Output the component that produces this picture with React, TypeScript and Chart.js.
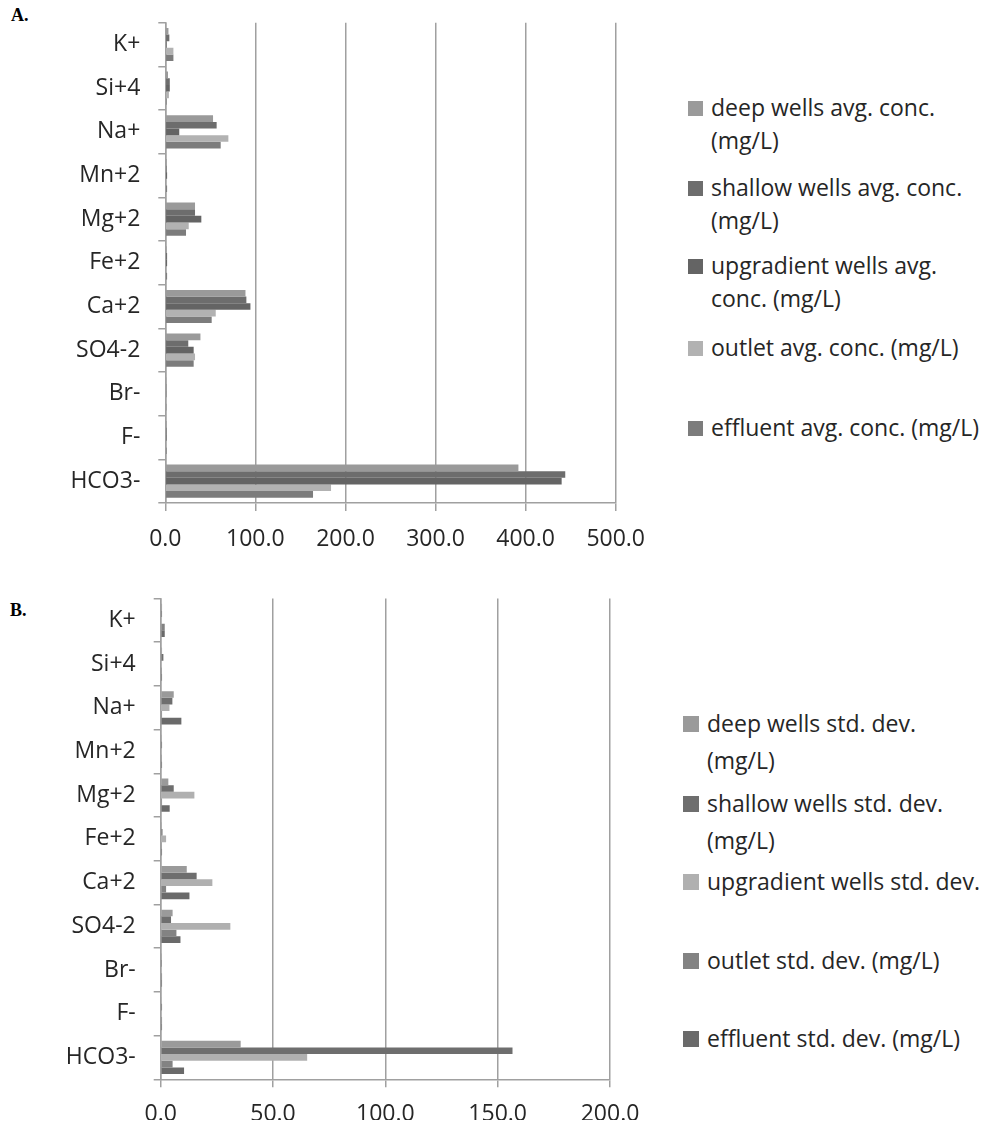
import React, { useEffect, useRef } from 'react';
import { Chart, registerables } from 'chart.js';

Chart.register(...registerables);

const categories = ['K+', 'Si+4', 'Na+', 'Mn+2', 'Mg+2', 'Fe+2', 'Ca+2', 'SO4-2', 'Br-', 'F-', 'HCO3-'];

// Panel A: average concentrations (mg/L)
const deepAvg = [3.5, 3, 53, 1.5, 33, 1.5, 89, 39, 1.2, 1.5, 392];
const shallowAvg = [4.5, 5, 57, 1.5, 33, 2, 90, 25.5, 1.2, 1.5, 444];
const upgradientAvg = [1.5, 5, 15.5, 2, 40, 2, 94.5, 31.5, 1.2, 1.5, 440];
const outletAvg = [9, 4, 70, 1, 26, 1.2, 56, 33, 1, 1.5, 184];
const effluentAvg = [9, 1.5, 61.5, 2, 23, 2, 51.5, 31.5, 1.2, 1.5, 164];

// Panel B: standard deviations (mg/L)
const deepSd = [0.6, 0.6, 5.8, 0.5, 3.4, 0.5, 11.6, 5.3, 0.1, 0.4, 35.6];
const shallowSd = [0.6, 1.2, 5.2, 0.6, 5.8, 0.8, 16, 4.6, 0.1, 0.6, 156.6];
const upgradientSd = [0.3, 0.5, 3.9, 0.4, 15, 2.4, 23, 31, 0.4, 0.4, 65.2];
const outletSd = [1.8, 0.1, 0.6, 0.5, 0.6, 0.5, 2.4, 7, 0.6, 0.6, 5.3];
const effluentSd = [1.8, 0.6, 9.2, 0.6, 4, 0.6, 12.8, 8.8, 0.6, 0.6, 10.4];

const labelsA = [
  ['deep wells avg. conc.', '(mg/L)'],
  ['shallow wells avg. conc.', '(mg/L)'],
  ['upgradient wells avg.', 'conc. (mg/L)'],
  ['outlet avg. conc. (mg/L)'],
  ['effluent avg. conc. (mg/L)'],
];
const labelsB = [
  ['deep wells std. dev.', '(mg/L)'],
  ['shallow wells std. dev.', '(mg/L)'],
  ['upgradient wells std. dev.'],
  ['outlet std. dev. (mg/L)'],
  ['effluent std. dev. (mg/L)'],
];

const colorsA = ['#9a9a9a', '#6d6d6d', '#646464', '#b2b2b2', '#7c7c7c'];
const colorsB = ['#9a9a9a', '#6e6e6e', '#b0b0b0', '#838383', '#6a6a6a'];

const FONT = "'Open Sans', 'Noto Sans', sans-serif";
const TEXT = '#262626';
const GRID = '#a0a0a0';

type PanelProps = {
  series: number[][];
  colors: string[];
  names: string[];
  max: number;
  step: number;
  width: number;
  height: number;
  yWidth: number;
  padTop: number;
  padRight: number;
  xHeight: number;
  xPad: number;
  left: number;
  top: number;
};

function Panel(p: PanelProps) {
  const ref = useRef<HTMLCanvasElement | null>(null);
  useEffect(() => {
    if (!ref.current) return;
    const chart = new Chart(ref.current, {
      type: 'bar',
      data: {
        labels: categories,
        datasets: p.series.map((d, i) => ({
          label: p.names[i],
          data: d,
          backgroundColor: p.colors[i],
          borderWidth: 0,
          categoryPercentage: 0.76,
          barPercentage: 1,
        })),
      },
      options: {
        indexAxis: 'y',
        responsive: false,
        animation: false,
        events: [],
        layout: { padding: { top: p.padTop, right: p.padRight, left: 0, bottom: 0 } },
        plugins: { legend: { display: false }, tooltip: { enabled: false } },
        scales: {
          x: {
            min: 0,
            max: p.max,
            ticks: {
              stepSize: p.step,
              padding: p.xPad,
              color: TEXT,
              font: { family: FONT, size: 23 },
              callback: (v: any) => Number(v).toFixed(1),
            },
            grid: { color: GRID, lineWidth: 1.5, drawTicks: true, tickLength: 8, tickColor: GRID },
            border: { display: true, color: GRID, width: 1.5 },
            afterFit: (s: any) => {
              s.height = p.xHeight;
              s.paddingLeft = 0;
              s.paddingRight = 0;
            },
          },
          y: {
            ticks: { padding: 18, color: TEXT, font: { family: FONT, size: 23 } },
            grid: { drawOnChartArea: false, drawTicks: true, tickLength: 7, color: GRID, lineWidth: 1.5 },
            border: { display: true, color: GRID, width: 1.5 },
            afterFit: (s: any) => {
              s.width = p.yWidth;
              s.paddingTop = 0;
              s.paddingBottom = 0;
            },
          },
        },
      },
    });
    return () => chart.destroy();
  }, []);
  return (
    <canvas
      ref={ref}
      width={p.width}
      height={p.height}
      style={{ position: 'absolute', left: p.left, top: p.top, width: p.width, height: p.height, display: 'block' }}
    />
  );
}

function Legend({ items, colors, left, centers, lineHeight, box }: any) {
  return (
    <>
      {items.map((lines: string[], i: number) => (
        <div
          key={i}
          style={{
            position: 'absolute',
            left,
            top: centers[i] - lineHeight / 2,
            fontFamily: FONT,
            fontSize: 23,
            lineHeight: lineHeight + 'px',
            color: TEXT,
            whiteSpace: 'nowrap',
          }}
        >
          <span
            style={{
              position: 'absolute',
              left: 0,
              top: (lineHeight - box) / 2 + 1,
              width: box,
              height: box,
              background: colors[i],
            }}
          />
          <div style={{ marginLeft: box + 8 }}>
            {lines.map((l, j) => (
              <div key={j}>{l}</div>
            ))}
          </div>
        </div>
      ))}
    </>
  );
}

export default function App() {
  return (
    <div style={{ position: 'relative', width: 976, height: 1120, marginBottom: -8 }}>
      <div style={{ position: 'absolute', left: 3, top: -3, fontFamily: 'serif', fontWeight: 'bold', fontSize: 18 }}>A.</div>
      <Panel
        series={[deepAvg, shallowAvg, upgradientAvg, outletAvg, effluentAvg]}
        colors={colorsA}
        names={labelsA.map((l) => l.join(' '))}
        max={500}
        step={100}
        width={640}
        height={555}
        yWidth={157.3}
        padTop={14.7}
        padRight={32.3}
        xHeight={60}
        xPad={15}
        left={0}
        top={0}
      />
      <Legend items={labelsA} colors={colorsA} left={680} centers={[99, 179, 257, 339, 419]} lineHeight={33} box={15} />

      <div style={{ position: 'absolute', left: 2, top: 592, fontFamily: 'serif', fontWeight: 'bold', fontSize: 18 }}>B.</div>
      <Panel
        series={[deepSd, shallowSd, upgradientSd, outletSd, effluentSd]}
        colors={colorsB}
        names={labelsB.map((l) => l.join(' '))}
        max={200}
        step={50}
        width={640}
        height={544}
        yWidth={152.7}
        padTop={14.5}
        padRight={38}
        xHeight={48.7}
        xPad={13}
        left={0}
        top={576}
      />
      <Legend items={labelsB} colors={colorsB} left={675} centers={[715, 795, 873, 952, 1030]} lineHeight={37} box={16} />
    </div>
  );
}
